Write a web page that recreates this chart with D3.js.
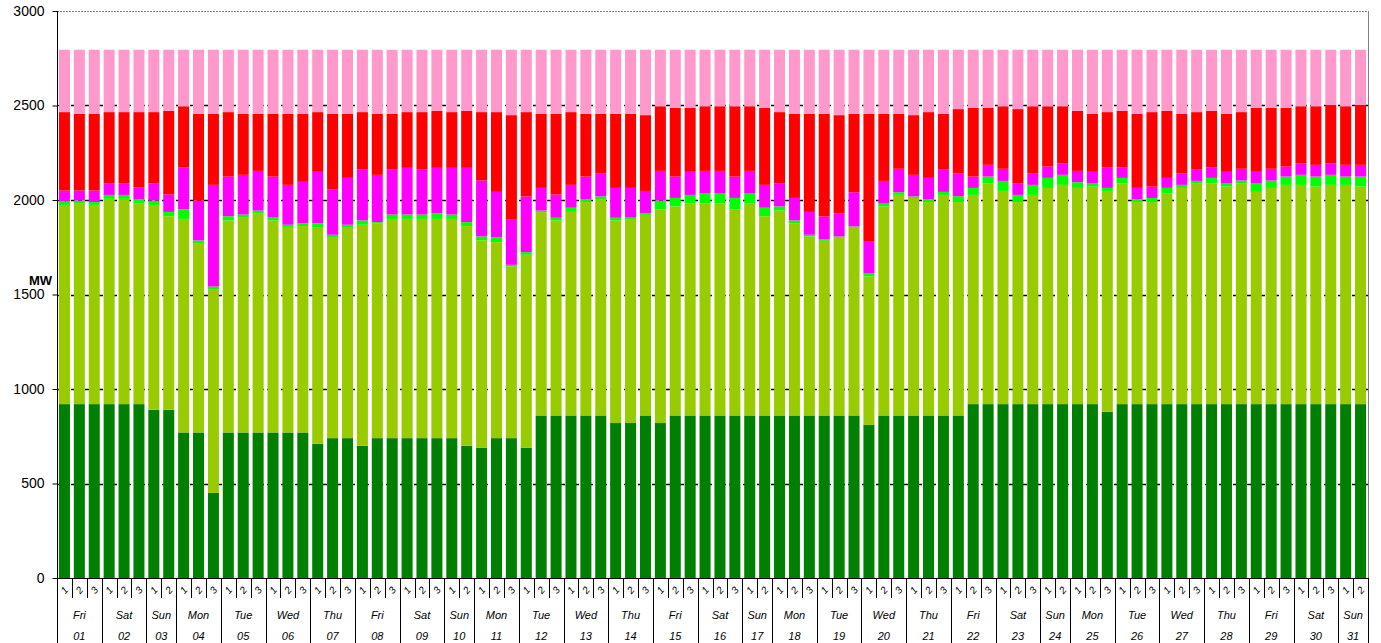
<!DOCTYPE html>
<html>
<head>
<meta charset="utf-8">
<script src="https://cdn.jsdelivr.net/npm/d3@7"></script>
<style>
  html, body { margin: 0; padding: 0; background: #fff; }
  svg text { font-family: Arial, "Liberation Sans", sans-serif; }
</style>
</head>
<body>
<div id="chart"></div>
<script>
// days of the month and how many shifts (bars) each one has
const dayNames = ["Fri","Sat","Sun","Mon","Tue","Wed","Thu","Fri","Sat","Sun","Mon","Tue","Wed","Thu","Fri","Sat","Sun","Mon","Tue","Wed","Thu","Fri","Sat","Sun","Mon","Tue","Wed","Thu","Fri","Sat","Sun"];
const dayNums = ["01","02","03","04","05","06","07","08","09","10","11","12","13","14","15","16","17","18","19","20","21","22","23","24","25","26","27","28","29","30","31"];
const shiftsPerDay = [3,3,2,3,3,3,3,3,3,2,3,3,3,3,3,3,2,3,3,3,3,3,3,2,3,3,3,3,3,3,2];

const yTicks = [0, 500, 1000, 1500, 2000, 2500, 3000];

// series values (MW), one value per bar, bottom to top
const darkGreen = [920,920,920,920,920,920,890,890,770,770,450,770,770,770,770,770,770,710,740,740,700,740,740,740,740,740,740,700,690,740,740,690,860,860,860,860,860,820,820,860,820,860,860,860,860,860,860,860,860,860,860,860,860,860,810,860,860,860,860,860,860,920,920,920,920,920,920,920,920,920,880,920,920,920,920,920,920,920,920,920,920,920,920,920,920,920,920,920];
const yellowGreen = [1054,1063,1054,1086,1086,1063,1084,1024,1130,1002,1078,1122,1136,1160,1122,1083,1092,1143,1060,1113,1169,1137,1160,1160,1160,1160,1160,1162,1096,1037,908,1020,1076,1032,1077,1129,1144,1072,1079,1061,1131,1106,1121,1121,1121,1091,1121,1054,1084,1016,947,924,940,993,785,1106,1167,1151,1129,1167,1129,1107,1167,1128,1069,1107,1144,1160,1144,1151,1168,1167,1069,1069,1114,1144,1167,1167,1151,1167,1123,1144,1160,1160,1151,1160,1160,1151];
const brightGreen = [18,14,15,21,21,21,23,23,51,14,14,22,17,14,15,16,15,24,16,16,23,6,23,23,23,30,23,21,21,25,9,14,8,14,22,15,15,14,8,9,46,45,46,53,53,60,53,45,22,16,9,9,7,7,16,15,14,8,15,16,31,37,37,53,38,53,53,53,30,16,16,30,15,22,30,16,14,30,16,16,44,39,44,53,53,53,44,53];
const magenta = [58,53,61,60,60,62,90,92,221,211,538,210,210,210,217,211,219,272,241,248,271,250,240,247,240,240,247,287,296,241,242,295,120,123,121,120,121,158,157,118,157,113,122,120,120,113,120,121,121,119,121,120,122,181,168,120,124,114,113,120,120,60,62,64,60,60,60,60,60,62,108,55,60,60,53,60,62,55,62,62,62,62,53,60,62,60,62,62];
const red = [415,406,406,378,378,399,378,443,324,459,376,341,323,302,332,376,360,316,399,339,302,323,293,295,302,302,295,302,362,422,550,446,392,427,385,332,316,392,392,401,342,364,339,342,342,372,342,408,378,445,519,543,520,415,677,355,291,316,348,293,341,364,302,331,394,356,319,303,318,307,293,300,392,394,355,316,302,300,307,300,339,323,311,303,310,310,310,317];
const pink = [330,339,339,330,330,330,330,323,299,339,339,330,339,339,339,339,339,330,339,339,330,339,339,330,330,323,330,323,330,330,346,330,339,339,330,339,339,339,339,346,299,307,307,299,299,299,299,307,330,339,339,339,346,339,339,339,339,346,330,339,314,307,307,299,314,299,299,299,323,339,330,323,339,330,323,339,330,323,339,330,307,307,307,299,299,292,299,292];

const seriesKeys = ["darkGreen","yellowGreen","brightGreen","magenta","red","pink"];
const seriesColors = ["#008000","#99CC00","#00FF00","#FF00FF","#FF0000","#FF99CC"];

const W = 1381, H = 643;
const plot = {left: 57, right: 1368, top: 11, bottom: 578};

// one row per bar
let bars = [];
dayNums.forEach((dn, di) => {
	for (let s = 1; s <= shiftsPerDay[di]; s++) {
		bars.push({day: di, shift: s});
	}
});
bars.forEach((b, i) => {
	b.id = i;
	b.darkGreen = darkGreen[i];
	b.yellowGreen = yellowGreen[i];
	b.brightGreen = brightGreen[i];
	b.magenta = magenta[i];
	b.red = red[i];
	b.pink = pink[i];
});

const xScale = d3.scaleBand()
	.domain(bars.map((d) => d.id))
	.range([plot.left, plot.right])
	.paddingInner(0.26)
	.paddingOuter(0.13);

const yScale = d3.scaleLinear()
	.domain([0, 3000])
	.range([plot.bottom, plot.top]);

const stacked = d3.stack().keys(seriesKeys)(bars);

const svg = d3.select("#chart")
	.append("svg")
	.attr("width", W)
	.attr("height", H);

// gridlines
svg.append("g")
	.selectAll("line")
	.data(yTicks.filter((t) => t > 0 && t < 3000))
	.enter().append("line")
	.attr("x1", plot.left)
	.attr("x2", plot.right)
	.attr("y1", (d) => Math.round(yScale(d)) + 0.5)
	.attr("y2", (d) => Math.round(yScale(d)) + 0.5)
	.attr("stroke", "#000")
	.attr("stroke-width", 1.3)
	.attr("stroke-dasharray", "4,3");

// plot border (top + right in gray)
svg.append("line")
	.attr("x1", plot.left).attr("x2", plot.right)
	.attr("y1", plot.top + 0.5).attr("y2", plot.top + 0.5)
	.attr("stroke", "#808080")
	.attr("stroke-dasharray", "2,1");
svg.append("line")
	.attr("x1", plot.right + 0.5).attr("x2", plot.right + 0.5)
	.attr("y1", plot.top).attr("y2", plot.bottom)
	.attr("stroke", "#808080");

// stacked bars
svg.append("g")
	.selectAll("g")
	.data(stacked)
	.enter().append("g")
	.attr("fill", (d, i) => seriesColors[i])
	.selectAll("rect")
	.data((d) => d)
	.enter().append("rect")
	.attr("x", (d) => xScale(d.data.id))
	.attr("width", xScale.bandwidth())
	.attr("y", (d) => yScale(d[1]))
	.attr("height", (d) => yScale(d[0]) - yScale(d[1]));

// y axis
const yAxis = d3.axisLeft(yScale)
	.tickValues(yTicks)
	.tickFormat(d3.format("d"))
	.tickSize(5)
	.tickPadding(8);

const yG = svg.append("g")
	.attr("transform", "translate(" + (plot.left + 0.5) + ",0)")
	.call(yAxis);
yG.select(".domain").attr("stroke", "#000").attr("d", "M0," + plot.top + "V" + plot.bottom);
yG.selectAll("text")
	.attr("font-size", 14)
	.attr("fill", "#000")
	.attr("font-family", "Arial, 'Liberation Sans', sans-serif");

svg.append("text")
	.attr("x", 52)
	.attr("y", 285)
	.attr("text-anchor", "end")
	.attr("font-size", 13)
	.attr("font-weight", "bold")
	.text("MW");

// x axis line
svg.append("line")
	.attr("x1", plot.left).attr("x2", plot.right + 1)
	.attr("y1", plot.bottom + 0.5).attr("y2", plot.bottom + 0.5)
	.attr("stroke", "#000");

// x axis: shift labels, day names, day numbers
const step = xScale.step();
const edge = (i) => xScale(i) - xScale.paddingInner() * step / 2;

const xg = svg.append("g");

// short ticks between bars
xg.selectAll("line.tick")
	.data(bars.filter((b) => b.shift > 1))
	.enter().append("line")
	.attr("class", "tick")
	.attr("x1", (d) => Math.round(edge(d.id)) + 0.5)
	.attr("x2", (d) => Math.round(edge(d.id)) + 0.5)
	.attr("y1", plot.bottom)
	.attr("y2", plot.bottom + 20)
	.attr("stroke", "#000");

// long separators between days
let dayStart = [];
let acc = 0;
shiftsPerDay.forEach((n) => { dayStart.push(acc); acc += n; });
const sepIdx = dayStart.concat([bars.length]);

xg.selectAll("line.sep")
	.data(sepIdx)
	.enter().append("line")
	.attr("class", "sep")
	.attr("x1", (d) => Math.round(d < bars.length ? edge(d) : plot.right) + 0.5)
	.attr("x2", (d) => Math.round(d < bars.length ? edge(d) : plot.right) + 0.5)
	.attr("y1", plot.bottom)
	.attr("y2", H)
	.attr("stroke", "#000");

xg.selectAll("text.shift")
	.data(bars)
	.enter().append("text")
	.attr("class", "shift")
	.attr("font-size", 10)
	.attr("font-style", "italic")
	.attr("text-anchor", "middle")
	.attr("transform", (d) => "translate(" + (xScale(d.id) + xScale.bandwidth() / 2) + "," + (plot.bottom + 12) + ") rotate(-50)")
	.attr("dy", "0.35em")
	.text((d) => d.shift);

const dayCenter = (di) => {
	const a = edge(dayStart[di]);
	const b = di + 1 < dayStart.length ? edge(dayStart[di + 1]) : plot.right;
	return (a + b) / 2;
};

xg.selectAll("text.dname")
	.data(dayNames)
	.enter().append("text")
	.attr("class", "dname")
	.attr("x", (d, i) => dayCenter(i))
	.attr("y", 619)
	.attr("text-anchor", "middle")
	.attr("font-size", 11)
	.attr("font-style", "italic")
	.text((d) => d);

xg.selectAll("text.dnum")
	.data(dayNums)
	.enter().append("text")
	.attr("class", "dnum")
	.attr("x", (d, i) => dayCenter(i))
	.attr("y", 640)
	.attr("text-anchor", "middle")
	.attr("font-size", 11)
	.attr("font-style", "italic")
	.text((d) => d);
</script>
</body>
</html>
